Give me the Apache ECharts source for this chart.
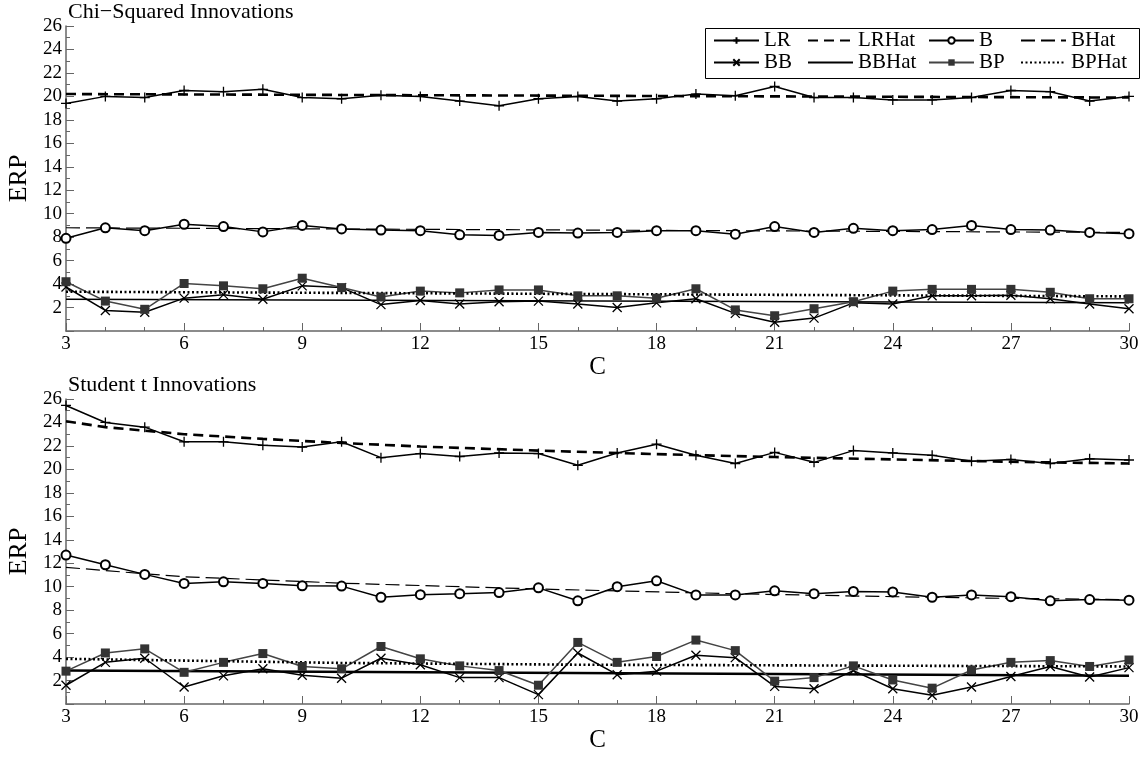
<!DOCTYPE html>
<html>
<head>
<meta charset="utf-8">
<script src="https://cdn.jsdelivr.net/npm/echarts@6/dist/echarts.min.js"></script>
<style>
html, body { margin: 0; background: #fff; }
#chart { width: 1144px; height: 760px; }
</style>
</head>
<body>
<div id="chart"></div>
<script>
// x values (C)
const C = [3, 4, 5, 6, 7, 8, 9, 10, 11, 12, 13, 14, 15, 16, 17, 18, 19, 20, 21, 22, 23, 24, 25, 26, 27, 28, 29, 30];

// Chi-Squared Innovations
const chiLR = [19.4, 20.0, 19.9, 20.5, 20.4, 20.6, 19.9, 19.8, 20.1, 20.0, 19.6, 19.2, 19.8, 20.0,
    19.6, 19.8, 20.2, 20.05, 20.85, 19.9, 19.9, 19.7, 19.7, 19.9, 20.5, 20.4, 19.6, 20.0];
const chiB = [7.9, 8.8, 8.55, 9.1, 8.9, 8.45, 9.0, 8.7, 8.6, 8.55, 8.2, 8.15, 8.4, 8.35,
    8.4, 8.55, 8.55, 8.25, 8.9, 8.4, 8.75, 8.55, 8.65, 9.0, 8.65, 8.6, 8.4, 8.3];
const chiBB = [3.75, 1.75, 1.6, 2.8, 3.1, 2.7, 3.85, 3.7, 2.25, 2.6, 2.3, 2.5, 2.55, 2.3,
    2.0, 2.4, 2.75, 1.5, 0.75, 1.1, 2.4, 2.3, 3.0, 3.0, 3.05, 2.75, 2.3, 1.9];
const chiBP = [4.2, 2.55, 1.85, 4.05, 3.85, 3.6, 4.5, 3.7, 2.9, 3.4, 3.25, 3.5, 3.5, 3.0,
    3.0, 2.8, 3.6, 1.8, 1.3, 1.9, 2.5, 3.4, 3.55, 3.55, 3.55, 3.3, 2.75, 2.75];
// fitted lines, read at a few C values
const chiHatC = [3, 30];
const chiLRHat = [20.2, 19.9];
const chiBHat = [8.8, 8.4];
const chiBBHat = [2.7, 2.4];
const chiBPHat = [3.35, 2.95];

// Student t Innovations
const tLR = [25.45, 24.0, 23.6, 22.35, 22.35, 22.05, 21.9, 22.35, 21.0, 21.35, 21.1, 21.4, 21.35, 20.35,
    21.4, 22.15, 21.2, 20.5, 21.45, 20.6, 21.6, 21.4, 21.2, 20.7, 20.85, 20.5, 20.9, 20.8];
const tB = [12.7, 11.87, 11.05, 10.28, 10.42, 10.28, 10.08, 10.05, 9.1, 9.32, 9.4, 9.5, 9.9, 8.8,
    10.0, 10.5, 9.3, 9.3, 9.65, 9.4, 9.6, 9.55, 9.1, 9.3, 9.15, 8.8, 8.9, 8.85];
const tBB = [1.6, 3.55, 3.9, 1.45, 2.4, 3.0, 2.45, 2.2, 3.9, 3.35, 2.25, 2.25, 0.8, 4.35,
    2.5, 2.8, 4.15, 3.95, 1.5, 1.3, 2.85, 1.3, 0.75, 1.45, 2.35, 3.2, 2.3, 3.1];
const tBP = [2.8, 4.35, 4.7, 2.7, 3.55, 4.3, 3.2, 3.0, 4.9, 3.85, 3.25, 2.85, 1.6, 5.25,
    3.55, 4.05, 5.45, 4.55, 1.95, 2.25, 3.25, 2.05, 1.35, 2.9, 3.55, 3.7, 3.2, 3.75];
const tLRHatC = [3, 4, 5, 6, 8, 10, 12, 15, 18, 21, 24, 27, 30];
const tLRHat = [24.1, 23.6, 23.3, 23.0, 22.6, 22.25, 21.95, 21.6, 21.3, 21.05, 20.85, 20.65, 20.5];
const tBHatC = [3, 5, 6, 10, 15, 20, 24, 27, 30];
const tBHat = [11.65, 11.1, 10.85, 10.3, 9.8, 9.4, 9.15, 9.0, 8.9];
const tBBHatC = [3, 30];
const tBBHat = [2.85, 2.4];
const tBPHatC = [3, 10, 16, 30];
const tBPHat = [3.85, 3.5, 3.35, 3.2];

const FONT = "Liberation Serif";
const PLUS = "path://M0,5L10,5M5,0L5,10";
const CROSS = "path://M0,0L10,10M10,0L0,10";

const chart = echarts.init(document.getElementById("chart"));

const pairs = (xs, ys) => xs.map((x, i) => [x, ys[i]]);

function xAxisOf(idx) {
    return {
        gridIndex: idx,
        type: "value",
        min: 3,
        max: 30,
        interval: 3,
        name: "C",
        nameLocation: "middle",
        nameGap: 17,
        nameTextStyle: { color: "#000", fontFamily: FONT, fontSize: 25 },
        axisLine: { lineStyle: { color: "#666", width: 1.5 } },
        axisTick: { inside: true, length: 8, lineStyle: { color: "#666" } },
        minorTick: { show: true, splitNumber: 3, length: 4, lineStyle: { color: "#666" } },
        splitLine: { show: false },
        axisLabel: { color: "#000", fontFamily: FONT, fontSize: 19, margin: 4 },
    };
}

function yAxisOf(idx) {
    return {
        gridIndex: idx,
        type: "value",
        min: 0,
        max: 26,
        interval: 2,
        name: "ERP",
        nameLocation: "middle",
        nameGap: 33,
        nameTextStyle: { color: "#000", fontFamily: FONT, fontSize: 26 },
        axisLine: { show: true, lineStyle: { color: "#666", width: 1.5 } },
        axisTick: { inside: true, length: 8, lineStyle: { color: "#666" } },
        minorTick: { show: true, splitNumber: 2, length: 4, lineStyle: { color: "#666" } },
        splitLine: { show: false },
        axisLabel: {
            color: "#000", fontFamily: FONT, fontSize: 19, margin: 4,
            formatter: (v) => (v === 0 ? "" : v),
        },
    };
}

// 每个面板的8条线
function panel(idx, d) {
    const base = { type: "line", xAxisIndex: idx, yAxisIndex: idx, animation: false };
    return [
        Object.assign({}, base, {
            name: "LR", data: pairs(C, d.LR), symbol: PLUS, symbolSize: 10,
            itemStyle: { color: "#000", borderColor: "#000", borderWidth: 1.3 },
            lineStyle: { color: "#000", width: 1.5 },
        }),
        Object.assign({}, base, {
            name: "LRHat", data: d.LRHat, showSymbol: false, symbol: "none",
            itemStyle: { color: "#000" },
            lineStyle: { color: "#000", width: 2.6, type: [10, 6] },
        }),
        Object.assign({}, base, {
            name: "B", data: pairs(C, d.B), symbol: "emptyCircle", symbolSize: 9,
            itemStyle: { color: "#000", borderWidth: 1.3 },
            lineStyle: { color: "#000", width: 1.5 },
        }),
        Object.assign({}, base, {
            name: "BHat", data: d.BHat, showSymbol: false, symbol: "none",
            itemStyle: { color: "#000" },
            lineStyle: { color: "#000", width: 1.2, type: [14, 6] },
        }),
        Object.assign({}, base, {
            name: "BB", data: pairs(C, d.BB), symbol: CROSS, symbolSize: 9,
            itemStyle: { color: "#000", borderColor: "#000", borderWidth: 1.3 },
            lineStyle: { color: "#000", width: 1.5 },
        }),
        Object.assign({}, base, {
            name: "BBHat", data: d.BBHat, showSymbol: false, symbol: "none",
            itemStyle: { color: "#000" },
            lineStyle: { color: "#000", width: d.bbw },
        }),
        Object.assign({}, base, {
            name: "BP", data: pairs(C, d.BP), symbol: "rect", symbolSize: 9,
            itemStyle: { color: "#333" },
            lineStyle: { color: "#444", width: 1.5 },
        }),
        Object.assign({}, base, {
            name: "BPHat", data: d.BPHat, showSymbol: false, symbol: "none",
            itemStyle: { color: "#000" },
            lineStyle: { color: "#000", width: 2.6, type: [2, 2.5] },
        }),
    ];
}

// hat lines: no marker in the legend sample
const noMark = (name) => ({ name: name, itemStyle: { color: "rgba(0,0,0,0)", borderWidth: 0, opacity: 0 } });

const legendBase = {
    orient: "vertical",
    top: 30,
    itemWidth: 45,
    itemHeight: 8,
    itemGap: 1,
    padding: 0,
    selectedMode: false,
    textStyle: { color: "#000", fontFamily: FONT, fontSize: 21, lineHeight: 21 },
};

const option = {
    animation: false,
    backgroundColor: "#fff",
    title: [
        { text: "Chi\u2212Squared Innovations", left: 68, top: 1, padding: 0,
            textStyle: { color: "#000", fontFamily: FONT, fontSize: 22, fontWeight: "normal" } },
        { text: "Student t Innovations", left: 68, top: 374, padding: 0,
            textStyle: { color: "#000", fontFamily: FONT, fontSize: 22, fontWeight: "normal" } },
    ],
    grid: [
        { left: 66, top: 26, width: 1063, height: 305, outerBoundsMode: "none" },
        { left: 66, top: 399, width: 1063, height: 305, outerBoundsMode: "none" },
    ],
    xAxis: [xAxisOf(0), xAxisOf(1)],
    yAxis: [yAxisOf(0), yAxisOf(1)],
    legend: [
        Object.assign({}, legendBase, { left: 713, data: ["LR", "BB"] }),
        Object.assign({}, legendBase, { left: 807, data: [noMark("LRHat"), noMark("BBHat")] }),
        Object.assign({}, legendBase, { left: 928, data: ["B", "BP"] }),
        Object.assign({}, legendBase, { left: 1020, data: [noMark("BHat"), noMark("BPHat")] }),
    ],
    graphic: [{
        type: "rect", left: 703, top: 26, z: 100,
        shape: { width: 434, height: 50 },
        style: { fill: "none", stroke: "#000", lineWidth: 1 },
    }],
    series: [].concat(
        panel(0, {
            LR: chiLR, B: chiB, BB: chiBB, BP: chiBP, bbw: 1.5,
            LRHat: pairs(chiHatC, chiLRHat), BHat: pairs(chiHatC, chiBHat),
            BBHat: pairs(chiHatC, chiBBHat), BPHat: pairs(chiHatC, chiBPHat),
        }),
        panel(1, {
            LR: tLR, B: tB, BB: tBB, BP: tBP, bbw: 2.5,
            LRHat: pairs(tLRHatC, tLRHat), BHat: pairs(tBHatC, tBHat),
            BBHat: pairs(tBBHatC, tBBHat), BPHat: pairs(tBPHatC, tBPHat),
        })
    ),
};

chart.setOption(option);
</script>
</body>
</html>
